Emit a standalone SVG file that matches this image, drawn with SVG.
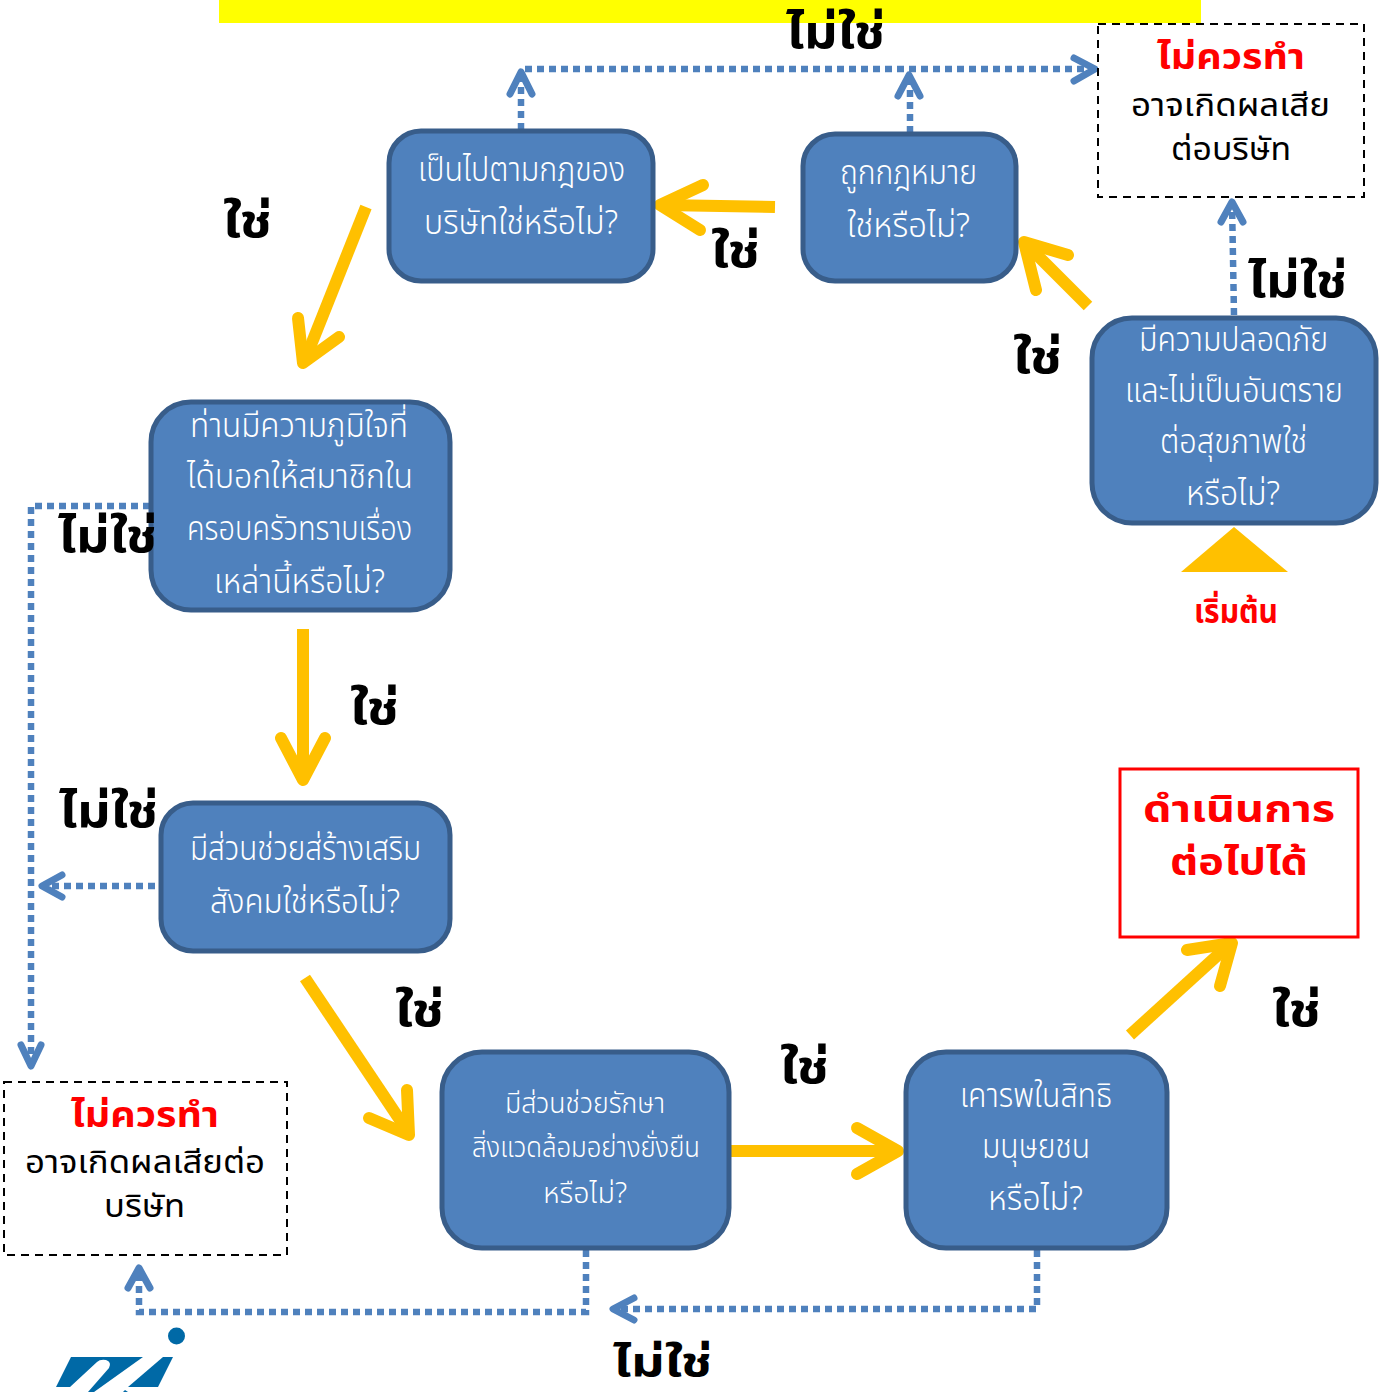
<svg xmlns="http://www.w3.org/2000/svg" width="1383" height="1392" viewBox="0 0 1383 1392">
<style>
text{font-family:"Noto Sans Thai","Noto Sans","Liberation Sans","DejaVu Sans",sans-serif}
.node{fill:#4f81bd;stroke:#385d8a;stroke-width:5}
.w{fill:#fff;font-size:33px;font-weight:300}
.sm{font-size:29px}
.k{fill:#000;font-size:46px;font-weight:700}
.r{fill:#f00;font-size:36px;font-weight:700}
.t{fill:#000;font-size:32px}
.dash{fill:#fff;stroke:#000;stroke-width:2;stroke-dasharray:8 6}
.y{fill:none;stroke:#ffc000;stroke-width:12;stroke-linecap:round;stroke-linejoin:round}
.ys{fill:none;stroke:#ffc000;stroke-width:12}
.b{fill:none;stroke:#4f81bd;stroke-width:6.500;stroke-dasharray:7 5}
.bh{fill:none;stroke:#4f81bd;stroke-width:7;stroke-linecap:round;stroke-linejoin:round}
</style>
<rect x="219" y="0" width="982" height="23" fill="#ff0"/>
<g id="connectors">
<path class="b" d="M521 130V72"/><path class="bh" d="M510 94L521 72L532 94"/>
<path class="b" d="M525 69H1095"/><path class="bh" d="M1074 58L1095 69L1074 81"/>
<path class="b" d="M910 133V74"/><path class="bh" d="M898 96L909 75L920 96"/>
<path class="b" d="M1234 315L1232 202"/><path class="bh" d="M1221 222L1232 202L1243 222"/>
<path class="b" d="M150 506H31V1066"/><path class="bh" d="M21 1045L31 1066L41 1045"/>
<path class="b" d="M155 886H42"/><path class="bh" d="M62 875L42 886L62 897"/>
<path class="b" d="M586 1250V1312H139V1270"/><path class="bh" d="M128 1288L139 1268L150 1288"/>
<path class="b" d="M1037 1250V1309H614"/><path class="bh" d="M634 1298L613 1309L634 1320"/>
<path class="ys" d="M1088 306L1026 244"/><path class="y" d="M1068 255L1024 242L1036 290"/>
<path class="ys" d="M775 207L662 205"/><path class="y" d="M703 185L660 205L700 230"/>
<path class="ys" d="M366 207L305 360"/><path class="y" d="M298 318L303 363L339 337"/>
<path class="ys" d="M303 629V780"/><path class="y" d="M281 738L303 780L325 738"/>
<path class="ys" d="M305 978L408 1132"/><path class="y" d="M369 1118L409 1135L407 1090"/>
<path class="ys" d="M730 1151H895"/><path class="y" d="M857 1128L898 1151L857 1174"/>
<path class="ys" d="M1130 1035L1230 944"/><path class="y" d="M1187 950L1232 943L1220 986"/>
</g>
<g id="start"><path d="M1181 572L1234 527L1288 572Z" fill="#ffc000"/><text class="r" x="1194" y="623" textLength="84" lengthAdjust="spacingAndGlyphs" style="font-size:33px">เริ่มต้น</text></g>
<g id="n-safety"><rect class="node" x="1092" y="318" width="284" height="205" rx="40"/>
<text class="w" x="1139" y="351" textLength="189" lengthAdjust="spacingAndGlyphs">มีความปลอดภัย</text>
<text class="w" x="1125" y="402" textLength="218" lengthAdjust="spacingAndGlyphs">และไม่เป็นอันตราย</text>
<text class="w" x="1160" y="453" textLength="147" lengthAdjust="spacingAndGlyphs">ต่อสุขภาพใช่</text>
<text class="w" x="1186" y="505" textLength="94" lengthAdjust="spacingAndGlyphs">หรือไม่?</text></g>
<g id="n-law"><rect class="node" x="803" y="134" width="213" height="147" rx="32"/>
<text class="w" x="840" y="184" textLength="137" lengthAdjust="spacingAndGlyphs">ถูกกฎหมาย</text>
<text class="w" x="847" y="237" textLength="123" lengthAdjust="spacingAndGlyphs">ใช่หรือไม่?</text></g>
<g id="n-rules"><rect class="node" x="389" y="131" width="264" height="150" rx="32"/>
<text class="w" x="418" y="181" textLength="207" lengthAdjust="spacingAndGlyphs">เป็นไปตามกฎของ</text>
<text class="w" x="424" y="234" textLength="194" lengthAdjust="spacingAndGlyphs">บริษัทใช่หรือไม่?</text></g>
<g id="n-pride"><rect class="node" x="151" y="402" width="299" height="208" rx="40"/>
<text class="w" x="190" y="437" textLength="218" lengthAdjust="spacingAndGlyphs">ท่านมีความภูมิใจที่</text>
<text class="w" x="187" y="488" textLength="226" lengthAdjust="spacingAndGlyphs">ได้บอกให้สมาชิกใน</text>
<text class="w" x="187" y="540" textLength="225" lengthAdjust="spacingAndGlyphs">ครอบครัวทราบเรื่อง</text>
<text class="w" x="214" y="593" textLength="171" lengthAdjust="spacingAndGlyphs">เหล่านี้หรือไม่?</text></g>
<g id="n-society"><rect class="node" x="161" y="803" width="289" height="148" rx="32"/>
<text class="w" x="190" y="860" textLength="231" lengthAdjust="spacingAndGlyphs">มีส่วนช่วยส่ร้างเสริม</text>
<text class="w" x="210" y="913" textLength="190" lengthAdjust="spacingAndGlyphs">สังคมใช่หรือไม่?</text></g>
<g id="n-env"><rect class="node" x="442" y="1052" width="287" height="196" rx="40"/>
<text class="w sm" x="505" y="1113" textLength="160" lengthAdjust="spacingAndGlyphs">มีส่วนช่วยรักษา</text>
<text class="w sm" x="472" y="1157" textLength="228" lengthAdjust="spacingAndGlyphs">สิ่งแวดล้อมอย่างยั่งยืน</text>
<text class="w sm" x="543" y="1203" textLength="84" lengthAdjust="spacingAndGlyphs">หรือไม่?</text></g>
<g id="n-rights"><rect class="node" x="906" y="1052" width="261" height="196" rx="40"/>
<text class="w" x="960" y="1107" textLength="152" lengthAdjust="spacingAndGlyphs">เคารพในสิทธิ</text>
<text class="w" x="982" y="1158" textLength="108" lengthAdjust="spacingAndGlyphs">มนุษยชน</text>
<text class="w" x="988" y="1210" textLength="95" lengthAdjust="spacingAndGlyphs">หรือไม่?</text></g>
<g id="n-proceed"><rect x="1120" y="769" width="238" height="168" fill="#fff" stroke="#f00" stroke-width="3"/>
<text class="r" x="1143" y="822" textLength="192" lengthAdjust="spacingAndGlyphs" style="font-size:38px">ดำเนินการ</text>
<text class="r" x="1170" y="875" textLength="138" lengthAdjust="spacingAndGlyphs" style="font-size:38px">ต่อไปได้</text></g>
<g id="n-stop1"><rect class="dash" x="1098" y="24" width="266" height="173"/>
<text class="r" x="1157" y="69" textLength="148" lengthAdjust="spacingAndGlyphs">ไม่ควรทำ</text>
<text class="t" x="1131" y="116" textLength="199" lengthAdjust="spacingAndGlyphs">อาจเกิดผลเสีย</text>
<text class="t" x="1171" y="160" textLength="120" lengthAdjust="spacingAndGlyphs">ต่อบริษัท</text></g>
<g id="n-stop2"><rect class="dash" x="4" y="1082" width="283" height="173"/>
<text class="r" x="71" y="1127" textLength="148" lengthAdjust="spacingAndGlyphs">ไม่ควรทำ</text>
<text class="t" x="25" y="1173" textLength="240" lengthAdjust="spacingAndGlyphs">อาจเกิดผลเสียต่อ</text>
<text class="t" x="104" y="1217" textLength="81" lengthAdjust="spacingAndGlyphs">บริษัท</text></g>
<g id="labels">
<text class="k" x="223" y="237" textLength="49" lengthAdjust="spacingAndGlyphs">ใช่</text>
<text class="k" x="711" y="267" textLength="49" lengthAdjust="spacingAndGlyphs">ใช่</text>
<text class="k" x="1013" y="373" textLength="49" lengthAdjust="spacingAndGlyphs">ใช่</text>
<text class="k" x="350" y="724" textLength="49" lengthAdjust="spacingAndGlyphs">ใช่</text>
<text class="k" x="395" y="1026" textLength="49" lengthAdjust="spacingAndGlyphs">ใช่</text>
<text class="k" x="780" y="1083" textLength="49" lengthAdjust="spacingAndGlyphs">ใช่</text>
<text class="k" x="1272" y="1026" textLength="49" lengthAdjust="spacingAndGlyphs">ใช่</text>
<text class="k" x="786" y="48" textLength="99" lengthAdjust="spacingAndGlyphs">ไม่ใช่</text>
<text class="k" x="1248" y="297" textLength="99" lengthAdjust="spacingAndGlyphs">ไม่ใช่</text>
<text class="k" x="58" y="552" textLength="99" lengthAdjust="spacingAndGlyphs">ไม่ใช่</text>
<text class="k" x="59" y="827" textLength="99" lengthAdjust="spacingAndGlyphs">ไม่ใช่</text>
<text class="k" x="613" y="1376" textLength="99" lengthAdjust="spacingAndGlyphs" style="font-size:40px">ไม่ใช่</text>
</g>
<g id="logo" fill="#0069a6">
<circle cx="176.500" cy="1336" r="8.500"/>
<path d="M71 1357H143L94 1392H88L109 1368Q112 1362 106 1360Q100 1359 97 1362L70 1387H56Z"/>
<path d="M173 1357L158 1387H128L163 1357Z"/>
<path d="M125 1390L128 1392H123Z"/>
</g>
</svg>
